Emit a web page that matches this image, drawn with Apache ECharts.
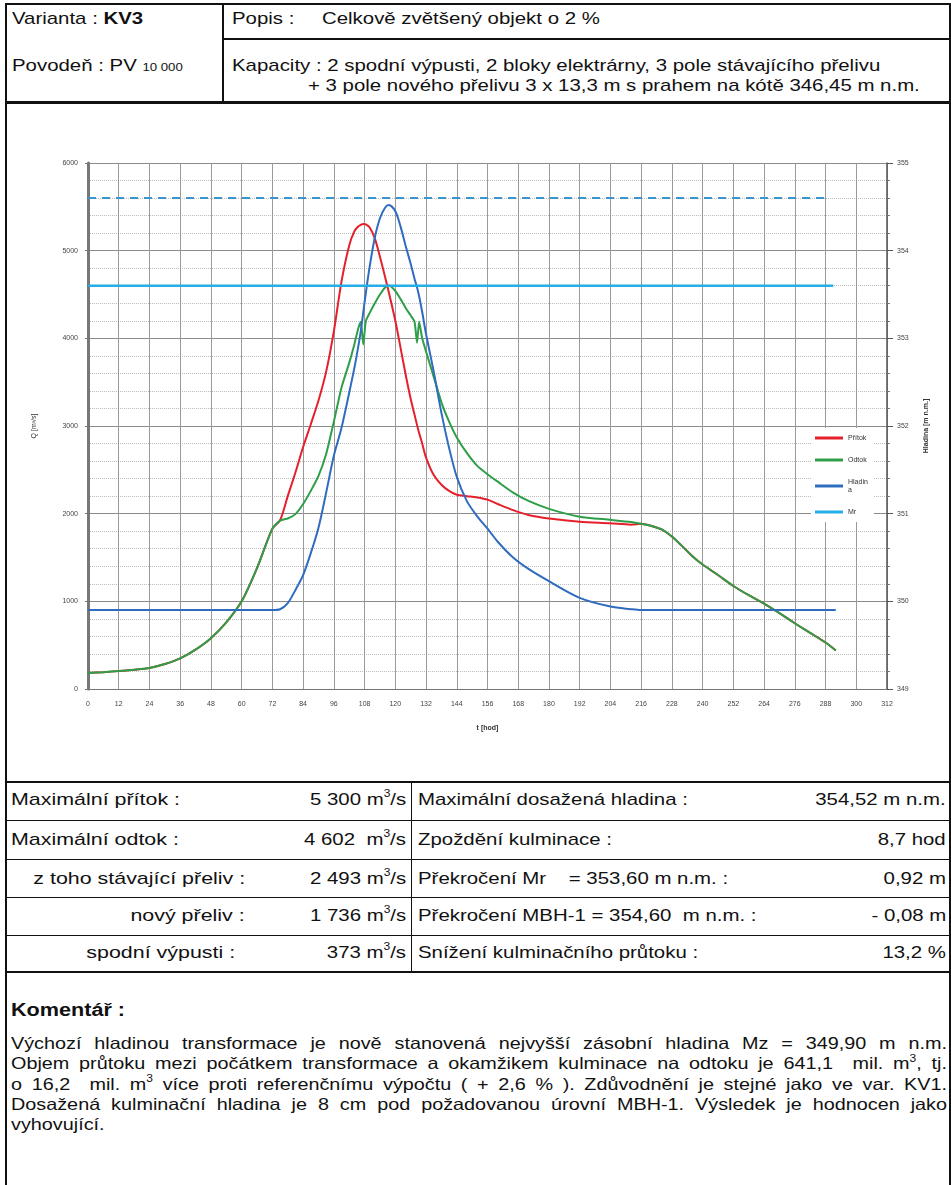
<!DOCTYPE html>
<html>
<head>
<meta charset="utf-8">
<script src="https://cdn.jsdelivr.net/npm/echarts@6/dist/echarts.min.js"></script>
<style>
  body { margin: 0; background: #fff; }
  #page { position: relative; width: 951px; height: 1185px; overflow: hidden;
    font-family: "Liberation Sans", Arial, sans-serif; font-size: 17px; color: #111; }
  .ln { position: absolute; background: #111; }
  .t { position: absolute; white-space: nowrap; line-height: 20px;
    transform: scaleX(1.2); transform-origin: left center; }
  .r { text-align: right; transform-origin: right center; }
  .w { transform: scaleX(1.26); }
  sup { font-size: 10px; line-height: 0; position: relative; top: -1px; }
  .sub { font-size: 11px; }
  .para { position: absolute; left: 11px; width: 780px; font-size: 16.5px; line-height: 20.3px;
    transform: scaleX(1.2); transform-origin: left top; }
  .para div { text-align: justify; text-align-last: justify; white-space: nowrap; }
  .para div.last { text-align-last: left; }
  #chart { position: absolute; left: 7px; top: 105px; width: 940px; height: 676px; }
</style>
</head>
<body>
<div id="page">
  <!-- ramecek -->
  <div class="ln" style="left:5px;top:3px;width:946px;height:2px"></div>
  <div class="ln" style="left:5px;top:3px;width:2px;height:1182px"></div>
  <div class="ln" style="left:949px;top:3px;width:2px;height:1182px"></div>
  <div class="ln" style="left:222px;top:3px;width:2px;height:100px"></div>
  <div class="ln" style="left:222px;top:38px;width:729px;height:2px"></div>
  <div class="ln" style="left:5px;top:101px;width:946px;height:3px"></div>

  <div class="t" style="left:12px;top:9px">Varianta : <b>KV3</b></div>
  <div class="t" style="left:12px;top:56px">Povodeň : PV <span class="sub">10 000</span></div>
  <div class="t" style="left:232px;top:9px">Popis :</div>
  <div class="t" style="left:322px;top:9px">Celkově zvětšený objekt o 2 %</div>
  <div class="t" style="left:232px;top:56px">Kapacity : 2 spodní výpusti, 2 bloky elektrárny, 3 pole stávajícího přelivu</div>
  <div class="t" style="left:308px;top:76px">+ 3 pole nového přelivu 3 x 13,3 m s prahem na kótě 346,45 m n.m.</div>

  <div id="chart"></div>

  <!-- tabulka vysledku -->
  <div class="ln" style="left:5px;top:781px;width:946px;height:2px"></div>
  <div class="ln" style="left:5px;top:820px;width:946px;height:1px"></div>
  <div class="ln" style="left:5px;top:859px;width:946px;height:1px"></div>
  <div class="ln" style="left:5px;top:897px;width:946px;height:1px"></div>
  <div class="ln" style="left:5px;top:935px;width:946px;height:1px"></div>
  <div class="ln" style="left:5px;top:971px;width:946px;height:2px"></div>
  <div class="ln" style="left:411px;top:781px;width:1px;height:191px"></div>

  <div class="t w" style="left:11px;top:790px">Maximální přítok :</div>
  <div class="t w" style="left:11px;top:830px">Maximální odtok :</div>
  <div class="t r w" style="right:706px;top:869px">z toho stávající přeliv :</div>
  <div class="t r w" style="right:706px;top:906px">nový přeliv :</div>
  <div class="t r w" style="right:716px;top:943px">spodní výpusti :</div>

  <div class="t r" style="right:545px;top:790px">5 300 m<sup>3</sup>/s</div>
  <div class="t r" style="right:545px;top:830px">4 602&nbsp; m<sup>3</sup>/s</div>
  <div class="t r" style="right:545px;top:869px">2 493 m<sup>3</sup>/s</div>
  <div class="t r" style="right:545px;top:906px">1 736 m<sup>3</sup>/s</div>
  <div class="t r" style="right:545px;top:943px">373 m<sup>3</sup>/s</div>

  <div class="t" style="left:418px;top:790px">Maximální dosažená hladina :</div>
  <div class="t" style="left:418px;top:830px">Zpoždění kulminace :</div>
  <div class="t" style="left:418px;top:869px">Překročení Mr &nbsp;&nbsp; = 353,60 m n.m. :</div>
  <div class="t" style="left:418px;top:906px">Překročení MBH-1 = 354,60 &nbsp;m n.m. :</div>
  <div class="t" style="left:418px;top:943px">Snížení kulminačního průtoku :</div>

  <div class="t r" style="right:5px;top:790px">354,52 m n.m.</div>
  <div class="t r" style="right:5px;top:830px">8,7 hod</div>
  <div class="t r" style="right:5px;top:869px">0,92 m</div>
  <div class="t r" style="right:5px;top:906px">- 0,08 m</div>
  <div class="t r" style="right:5px;top:943px">13,2 %</div>

  <!-- komentar -->
  <div class="t" style="left:11px;top:1000px;font-size:18px"><b>Komentář :</b></div>
  <div class="para" style="top:1033px">
    <div>Výchozí hladinou transformace je nově stanovená nejvyšší zásobní hladina Mz = 349,90 m n.m.</div>
    <div>Objem průtoku mezi počátkem transformace a okamžikem kulminace na odtoku je 641,1 &nbsp;mil. m<sup>3</sup>, tj.</div>
    <div>o 16,2 &nbsp;mil. m<sup>3</sup> více proti referenčnímu výpočtu ( + 2,6 % ). Zdůvodnění je stejné jako ve var. KV1.</div>
    <div>Dosažená kulminační hladina je 8 cm pod požadovanou úrovní MBH-1. Výsledek je hodnocen jako</div>
    <div class="last">vyhovující.</div>
  </div>
</div>

<script>
  // cas [hod]
  var hours = [0, 6, 12, 18, 24, 30, 36, 42, 48, 54,
    60, 66, 72, 75, 78, 81, 84, 87, 90, 93,
    96, 99, 102, 104, 105.5, 106.5, 107.5, 108.5, 110, 112,
    114, 116, 117.5, 120, 122, 124, 126, 127.5, 128.5, 129.3,
    130.5, 132, 135, 138, 141, 144, 148, 152, 156, 160,
    166, 172, 180, 192, 204, 212, 216, 220, 224, 228,
    232, 236, 240, 246, 252, 258, 264, 270, 276, 282,
    288, 292];

  // pritok Q [m3/s]
  var pritok = [182, 192, 205, 220, 240, 285, 350, 450, 580, 760,
    1000, 1380, 1830, 1925, 2200, 2470, 2760, 3020, 3290, 3620,
    4080, 4650, 5060, 5220, 5275, 5295, 5305, 5300, 5265, 5140,
    4930, 4700, 4520, 4200, 3900, 3590, 3310, 3130, 3010, 2920,
    2800, 2640, 2440, 2330, 2260, 2215, 2200, 2185, 2160, 2110,
    2040, 1985, 1945, 1908, 1890, 1875, 1885, 1860, 1820, 1740,
    1630, 1515, 1420, 1300, 1175, 1070, 975, 865, 750, 640,
    530, 440];

  // odtok Q [m3/s]
  var odtok = [182, 192, 205, 220, 240, 285, 350, 450, 580, 760,
    1000, 1380, 1830, 1920, 1945, 1995, 2110, 2260, 2430, 2680,
    3050, 3440, 3720, 3930, 4110, 4190, 3930, 4200, 4290, 4400,
    4500, 4580, 4602, 4540, 4450, 4350, 4260, 4190, 3950, 4190,
    4000, 3850, 3560, 3270, 3050, 2870, 2690, 2545, 2450, 2365,
    2240, 2145, 2055, 1966, 1930, 1905, 1885, 1860, 1820, 1740,
    1630, 1515, 1420, 1300, 1175, 1070, 975, 865, 750, 640,
    530, 440];

  // hladina [m n.m.]
  var hladina = [349.90, 349.90, 349.90, 349.90, 349.90, 349.90, 349.90, 349.90, 349.90, 349.90,
    349.90, 349.90, 349.90, 349.91, 349.98, 350.13, 350.30, 350.55, 350.84, 351.24,
    351.66, 351.98, 352.38, 352.66, 352.90, 353.08, 353.30, 353.52, 353.82, 354.15,
    354.37, 354.49, 354.52, 354.45, 354.28, 354.06, 353.85, 353.68, 353.58, 353.48,
    353.30, 353.05, 352.62, 352.15, 351.75, 351.42, 351.14, 350.97, 350.83, 350.68,
    350.50, 350.37, 350.23, 350.04, 349.94, 349.91, 349.90, 349.90, 349.90, 349.90,
    349.90, 349.90, 349.90, 349.90, 349.90, 349.90, 349.90, 349.90, 349.90, 349.90,
    349.90, 349.90];

  var mrHours = [0, 232, 291];
  var mrLevel = [353.6, 353.6, 353.6];
  var mbhHours = [0, 232, 288];
  var mbhLevel = [354.6, 354.6, 354.6];

  var fnt = "Liberation Sans";
  var lblColor = "#444";

  function pairs(xs, ys) {
    return xs.map(function (x, i) { return [x, ys[i]]; });
  }

  var chart = echarts.init(document.getElementById('chart'));
  chart.setOption({
    animation: false,
    textStyle: { fontFamily: fnt },
    grid: { left: 81, top: 58, width: 799, height: 526 },
    legend: {
      orient: 'vertical',
      left: 804, top: 323,
      backgroundColor: '#fff',
      padding: [6, 6, 6, 4],
      itemWidth: 28, itemHeight: 3,
      itemGap: 14,
      icon: 'rect',
      textStyle: { fontSize: 7, color: '#333', fontFamily: fnt, lineHeight: 8 },
      formatter: function (name) { return name === 'Hladina' ? 'Hladin\na' : name; },
      data: ['Přítok', 'Odtok', 'Hladina', 'Mr']
    },
    xAxis: {
      type: 'value', min: 0, max: 312, interval: 12,
      name: 't [hod]', nameLocation: 'middle', nameGap: 36,
      nameTextStyle: { fontSize: 7, fontWeight: 'bold', color: '#333' },
      axisLine: { lineStyle: { color: '#777', width: 1 } },
      axisTick: { show: false },
      axisLabel: { fontSize: 7, color: lblColor, margin: 12 },
      splitLine: { show: true, lineStyle: { color: '#9a9a9a', width: 1 } }
    },
    yAxis: [{
      type: 'value', min: 0, max: 6000, interval: 1000,
      name: 'Q [m³/s]', nameLocation: 'middle', nameGap: 50, nameRotate: 90,
      nameTextStyle: { fontSize: 7, color: '#333' },
      axisLine: { show: true, lineStyle: { color: '#777', width: 3 } },
      axisTick: { show: true, length: 3, lineStyle: { color: '#777' } },
      axisLabel: { fontSize: 7, color: lblColor, margin: 10,
        formatter: function (v) { return String(v); } },
      splitLine: { show: true, lineStyle: { color: '#8a8a8a', width: 1 } },
      minorTick: { show: false, splitNumber: 5 },
      minorSplitLine: { show: true, lineStyle: { color: '#bdbdbd', type: 'dotted', width: 1 } }
    }, {
      type: 'value', min: 349, max: 355, interval: 1, position: 'right',
      name: 'Hladina [m n.m.]', nameLocation: 'middle', nameGap: 36, nameRotate: 90,
      nameTextStyle: { fontSize: 7, fontWeight: 'bold', color: '#333' },
      axisLine: { show: true, lineStyle: { color: '#555', width: 1.5 } },
      axisTick: { show: true, length: 6, lineStyle: { color: '#555' } },
      minorTick: { show: true, splitNumber: 5, length: 3, lineStyle: { color: '#777' } },
      axisLabel: { fontSize: 7, color: lblColor, margin: 10 },
      splitLine: { show: false }
    }],
    series: [{
      name: 'Přítok', type: 'line', yAxisIndex: 0,
      showSymbol: false, smooth: 0.3,
      lineStyle: { color: '#e5202b', width: 2 },
      itemStyle: { color: '#e5202b' },
      data: pairs(hours, pritok)
    }, {
      name: 'Odtok', type: 'line', yAxisIndex: 0,
      showSymbol: false, smooth: 0.2,
      lineStyle: { color: '#2e9e48', width: 2 },
      itemStyle: { color: '#2e9e48' },
      data: pairs(hours, odtok)
    }, {
      name: 'Hladina', type: 'line', yAxisIndex: 1,
      showSymbol: false, smooth: 0.3,
      lineStyle: { color: '#2f6cc0', width: 2 },
      itemStyle: { color: '#2f6cc0' },
      data: pairs(hours, hladina)
    }, {
      name: 'Mr', type: 'line', yAxisIndex: 1,
      showSymbol: false, symbol: 'none',
      lineStyle: { color: '#22aee6', width: 2.5 },
      itemStyle: { color: '#22aee6' },
      label: {
        show: true, position: 'top', distance: 3, fontSize: 7, color: '#3b8fd0',
        formatter: function (p) { return p.dataIndex === 1 ? '353,60' : ''; }
      },
      data: pairs(mrHours, mrLevel)
    }, {
      name: 'MBH-1', type: 'line', yAxisIndex: 1,
      showSymbol: false, symbol: 'none',
      lineStyle: { color: '#3a95cf', width: 2, type: [8, 6] },
      itemStyle: { color: '#3a95cf' },
      label: {
        show: true, position: 'top', distance: 3, fontSize: 7, color: '#3b8fd0',
        formatter: function (p) { return p.dataIndex === 1 ? '354,60' : ''; }
      },
      data: pairs(mbhHours, mbhLevel)
    }]
  });
</script>
</body>
</html>
